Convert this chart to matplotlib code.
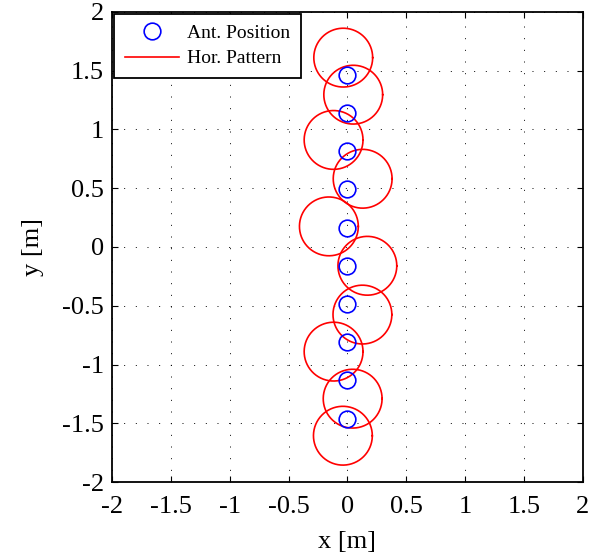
import numpy as np
import matplotlib
matplotlib.use('Agg')
import matplotlib.pyplot as plt

plt.rcParams['font.family'] = ['Liberation Serif', 'DejaVu Serif']

# antenna positions [m]
ant_x = [0, 0, 0, 0, 0, 0, 0, 0, 0, 0]
ant_y = [1.465, 1.14, 0.815, 0.49, 0.165, -0.16, -0.485, -0.81, -1.135, -1.46]

# horizontal pattern (drawn as circles): centre and radius [m]
pat_x = [-0.035, 0.05, -0.117, 0.13, -0.157, 0.17, 0.128, -0.117, 0.045, -0.038]
pat_y = [1.61, 1.295, 0.91, 0.58, 0.175, -0.16, -0.575, -0.89, -1.29, -1.605]
pat_r = [0.25, 0.25, 0.25, 0.25, 0.25, 0.25, 0.25, 0.25, 0.25, 0.25]

ticks = [-2, -1.5, -1, -0.5, 0, 0.5, 1, 1.5, 2]
tick_labels = ['-2', '-1.5', '-1', '-0.5', '0', '0.5', '1', '1.5', '2']

fig = plt.figure(figsize=(6.02, 5.6), dpi=100)
ax = fig.add_axes([0.186, 0.139, 0.782, 0.840])

t = np.linspace(0, 2 * np.pi, 200)
for k in range(len(pat_x)):
    lbl = 'Hor. Pattern' if k == 0 else None
    ax.plot(pat_x[k] + pat_r[k] * np.cos(t), pat_y[k] + pat_r[k] * np.sin(t),
            color='red', lw=1.2, label=lbl, zorder=3)

ax.plot(ant_x, ant_y, 'o', ms=12, mfc='none', mec='blue', mew=1.2,
        ls='none', label='Ant. Position', zorder=4)

ax.set_xlim(-2, 2)
ax.set_ylim(-2, 2)
ax.set_xticks(ticks)
ax.set_xticklabels(tick_labels)
ax.set_yticks(ticks)
ax.set_yticklabels(tick_labels)
ax.tick_params(direction='in', top=True, right=True, length=4, width=0.8,
               labelsize=19)
ax.tick_params(axis='x', pad=10)
ax.tick_params(axis='y', pad=6)
for s in ax.spines.values():
    s.set_linewidth(1.3)

ax.grid(True, color='black', lw=0.7, ls=(0, (1, 11)))
ax.set_axisbelow(True)

ax.set_xlabel('x [m]', fontsize=19, labelpad=9)
ax.set_ylabel('y [m]', fontsize=19, labelpad=13)

h, l = ax.get_legend_handles_labels()
leg = ax.legend(h[::-1], l[::-1], loc='upper left', fontsize=14, frameon=True,
                fancybox=False, edgecolor='black', framealpha=1,
                borderaxespad=0.1, handlelength=2.8, handletextpad=0.4,
                borderpad=0.55, labelspacing=0.4)
leg.get_frame().set_linewidth(1.3)
leg.set_zorder(10)

fig.savefig('out.png', dpi=100)
